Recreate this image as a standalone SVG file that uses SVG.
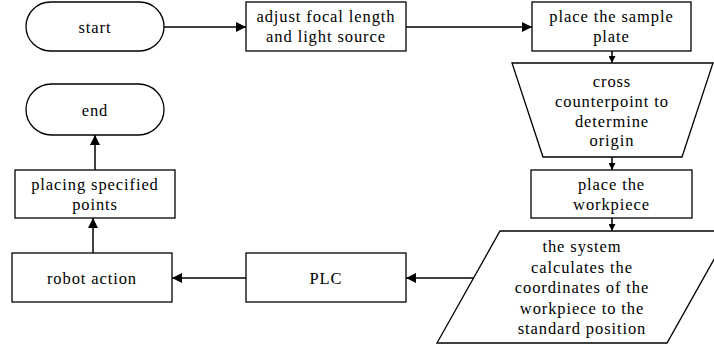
<svg xmlns="http://www.w3.org/2000/svg" width="714" height="350" viewBox="0 0 714 350">
<defs>
<marker id="ah" viewBox="0 0 10 10" refX="10" refY="5" markerWidth="10" markerHeight="10" markerUnits="userSpaceOnUse" orient="auto">
<path d="M0,0 L10,5 L0,10 z" fill="#000"/>
</marker>
<marker id="as" viewBox="0 0 10 10" refX="10" refY="5" markerWidth="7" markerHeight="7" markerUnits="userSpaceOnUse" orient="auto">
<path d="M0,0 L10,5 L0,10 z" fill="#000"/>
</marker>
</defs>
<style>
.s{fill:#fff;stroke:#000;stroke-width:1.3}
.t{font-size:16.5px;letter-spacing:0.9px;text-anchor:middle;fill:#000}
.c{fill:none;stroke:#000;stroke-width:1.5}
</style>
<rect width="714" height="350" fill="#fff"/>
<g id="connectors">
<line class="c" x1="164" y1="27" x2="246" y2="27" marker-end="url(#ah)"/>
<line class="c" x1="406" y1="27" x2="532" y2="27" marker-end="url(#ah)"/>
<line class="c" x1="612" y1="51" x2="612" y2="63" marker-end="url(#as)"/>
<line class="c" x1="612" y1="157" x2="612" y2="170" marker-end="url(#as)"/>
<line class="c" x1="612" y1="218" x2="612" y2="231" marker-end="url(#as)"/>
<line class="c" x1="473" y1="278" x2="406" y2="278" marker-end="url(#ah)"/>
<line class="c" x1="246" y1="278" x2="172" y2="278" marker-end="url(#ah)"/>
<line class="c" x1="93" y1="253" x2="93" y2="218" marker-end="url(#ah)"/>
<line class="c" x1="95" y1="170" x2="95" y2="135" marker-end="url(#ah)"/>
</g>
<g font-family="Liberation Serif, Times New Roman, serif">
<g id="start">
<rect class="s" x="26" y="2" width="138" height="49" rx="24.5"/>
<text class="t" x="95" y="33">start</text>
</g>
<g id="adjust">
<rect class="s" x="246" y="2" width="160" height="49"/>
<text class="t" x="326" y="21.5">adjust focal length</text>
<text class="t" x="326" y="41.5">and light source</text>
</g>
<g id="sample">
<rect class="s" x="532" y="2" width="159" height="49"/>
<text class="t" x="611.5" y="21.5">place the sample</text>
<text class="t" x="611.5" y="41.5">plate</text>
</g>
<g id="cross">
<polygon class="s" points="512,63 713,63 682,157 543,157"/>
<text class="t" x="612" y="87">cross</text>
<text class="t" x="612" y="107">counterpoint to</text>
<text class="t" x="612" y="127">determine</text>
<text class="t" x="612" y="146">origin</text>
</g>
<g id="workpiece">
<rect class="s" x="531" y="170" width="161" height="48"/>
<text class="t" x="611.5" y="190">place the</text>
<text class="t" x="611.5" y="210">workpiece</text>
</g>
<g id="system">
<polygon class="s" points="500,231 730,231 667,343 437,343"/>
<text class="t" x="582" y="252">the system</text>
<text class="t" x="582" y="272.5">calculates the</text>
<text class="t" x="582" y="293">coordinates of the</text>
<text class="t" x="582" y="313.5">workpiece to the</text>
<text class="t" x="582" y="334">standard position</text>
</g>
<g id="plc">
<rect class="s" x="246" y="253" width="160" height="49"/>
<text class="t" x="326" y="284">PLC</text>
</g>
<g id="robot">
<rect class="s" x="12" y="253" width="160" height="49"/>
<text class="t" x="92" y="284">robot action</text>
</g>
<g id="placing">
<rect class="s" x="15" y="170" width="160" height="48"/>
<text class="t" x="95" y="190">placing specified</text>
<text class="t" x="95" y="210">points</text>
</g>
<g id="end">
<rect class="s" x="26" y="84" width="138" height="51" rx="25.5"/>
<text class="t" x="95" y="116">end</text>
</g>
</g>
</svg>
